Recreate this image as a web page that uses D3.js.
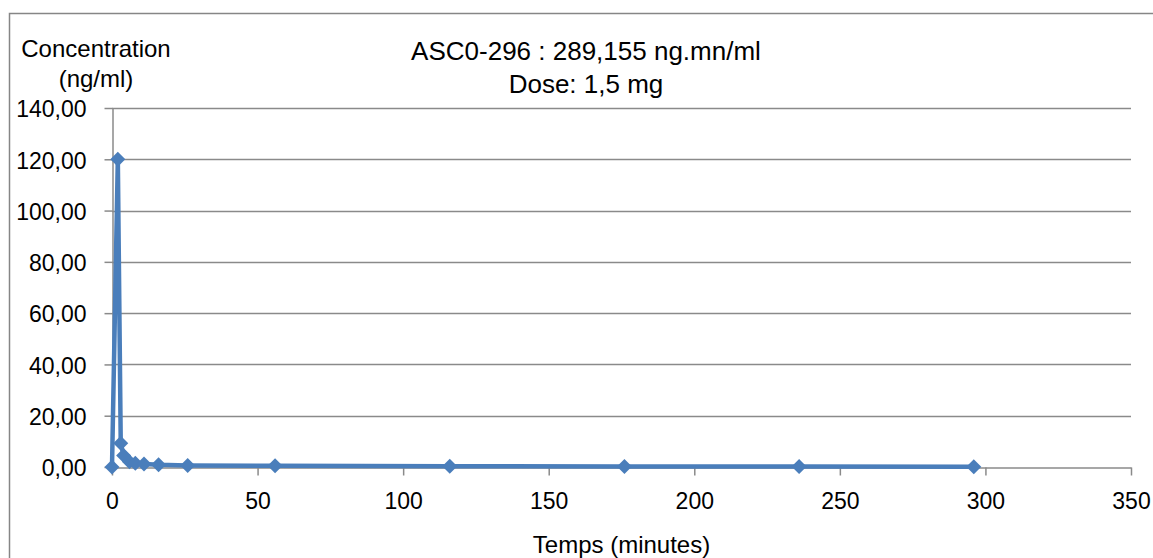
<!DOCTYPE html>
<html>
<head>
<meta charset="utf-8">
<script src="https://cdn.jsdelivr.net/npm/d3@7"></script>
<style>
  body { margin: 0; background: #fff; }
  svg { display: block; font-family: "Liberation Sans", Arial, sans-serif; }
</style>
</head>
<body>
<div id="chart"></div>
<script>
// temps (minutes) et concentration (ng/ml)
const temps = [0, 2, 3, 4, 6, 8, 11, 16, 26, 56, 116, 176, 236, 296];
const concentration = [0, 120, 9.3, 4.5, 2.0, 1.5, 1.2, 0.9, 0.6, 0.45, 0.3, 0.2, 0.15, 0.1];
const xTicks = [0, 50, 100, 150, 200, 250, 300, 350];
const yTicks = [0, 20, 40, 60, 80, 100, 120, 140];
const titleLines = ["ASC0-296 : 289,155 ng.mn/ml", "Dose: 1,5 mg"];

const data = temps.map((t, i) => ({ t, c: concentration[i] }));

const width = 1153;
const height = 558;
const margin = { top: 108, right: 22, bottom: 91, left: 112 };

const fr = d3.formatLocale({ decimal: ",", thousands: " ", grouping: [3], currency: ["", "€"] });
const fmtY = fr.format(".2f");

const x = d3.scaleLinear()
    .domain([0, 350])
    .range([margin.left, width - margin.right]);

const y = d3.scaleLinear()
    .domain([0, 140])
    .range([height - margin.bottom, margin.top]);

const svg = d3.select('#chart')
    .append('svg')
    .attr('width', width)
    .attr('height', height);

// cadre du graphique
svg.append('path')
    .attr('d', `M9.5,${height} V13.5 H${width}`)
    .attr('fill', 'none')
    .attr('stroke', '#868686')
    .attr('stroke-width', 1.5);

// grille horizontale
svg.append('g')
    .selectAll('line')
    .data(yTicks.filter(d => d > 0))
    .join('line')
    .attr('x1', margin.left)
    .attr('x2', width - margin.right)
    .attr('y1', d => Math.round(y(d)) + 0.5)
    .attr('y2', d => Math.round(y(d)) + 0.5)
    .attr('stroke', '#8a8a8a')
    .attr('stroke-width', 1.5);

// axe x
const xAxis = svg.append('g')
    .attr('transform', `translate(0, ${Math.round(y(0)) + 0.5})`)
    .call(d3.axisBottom(x).tickValues(xTicks).tickSize(8).tickSizeOuter(0).tickPadding(17));

// axe y
const yAxis = svg.append('g')
    .attr('transform', `translate(${margin.left + 0.5}, 0)`)
    .call(d3.axisLeft(y).tickValues(yTicks).tickFormat(fmtY).tickSize(8).tickSizeOuter(0).tickPadding(18));

[xAxis, yAxis].forEach(g => {
    g.select('.domain').attr('stroke', '#8a8a8a').attr('stroke-width', 1.5);
    g.selectAll('.tick line').attr('stroke', '#8a8a8a').attr('stroke-width', 1.5);
    g.selectAll('.tick text')
        .attr('font-family', '"Liberation Sans", Arial, sans-serif')
        .attr('font-size', '23px')
        .attr('fill', '#000');
});
yAxis.selectAll('.tick text').attr('dy', '0.38em');

// courbe
const line = d3.line()
    .x(d => x(d.t))
    .y(d => y(d.c));

svg.append('path')
    .datum(data)
    .attr('fill', 'none')
    .attr('stroke', '#4a7ebb')
    .attr('stroke-width', 4.5)
    .attr('stroke-linejoin', 'round')
    .attr('d', line);

// marqueurs losange
svg.append('g')
    .selectAll('path')
    .data(data)
    .join('path')
    .attr('transform', d => `translate(${x(d.t)}, ${y(d.c)})`)
    .attr('d', 'M0,-7.5L7.5,0L0,7.5L-7.5,0Z')
    .attr('fill', '#4a7ebb');

// titre
svg.append('text')
    .attr('text-anchor', 'middle')
    .attr('font-size', '26px')
    .attr('fill', '#000')
    .selectAll('tspan')
    .data(titleLines)
    .join('tspan')
    .attr('x', 586)
    .attr('y', (d, i) => 60 + i * 33)
    .text(d => d);

// titre axe y
svg.append('text')
    .attr('text-anchor', 'middle')
    .attr('font-size', '24px')
    .attr('fill', '#000')
    .selectAll('tspan')
    .data(['Concentration', '(ng/ml)'])
    .join('tspan')
    .attr('x', 96)
    .attr('y', (d, i) => 57 + i * 30)
    .text(d => d);

// titre axe x
svg.append('text')
    .attr('x', (margin.left + width - margin.right) / 2)
    .attr('y', 553)
    .attr('text-anchor', 'middle')
    .attr('font-size', '24px')
    .attr('fill', '#000')
    .text('Temps (minutes)');
</script>
</body>
</html>
